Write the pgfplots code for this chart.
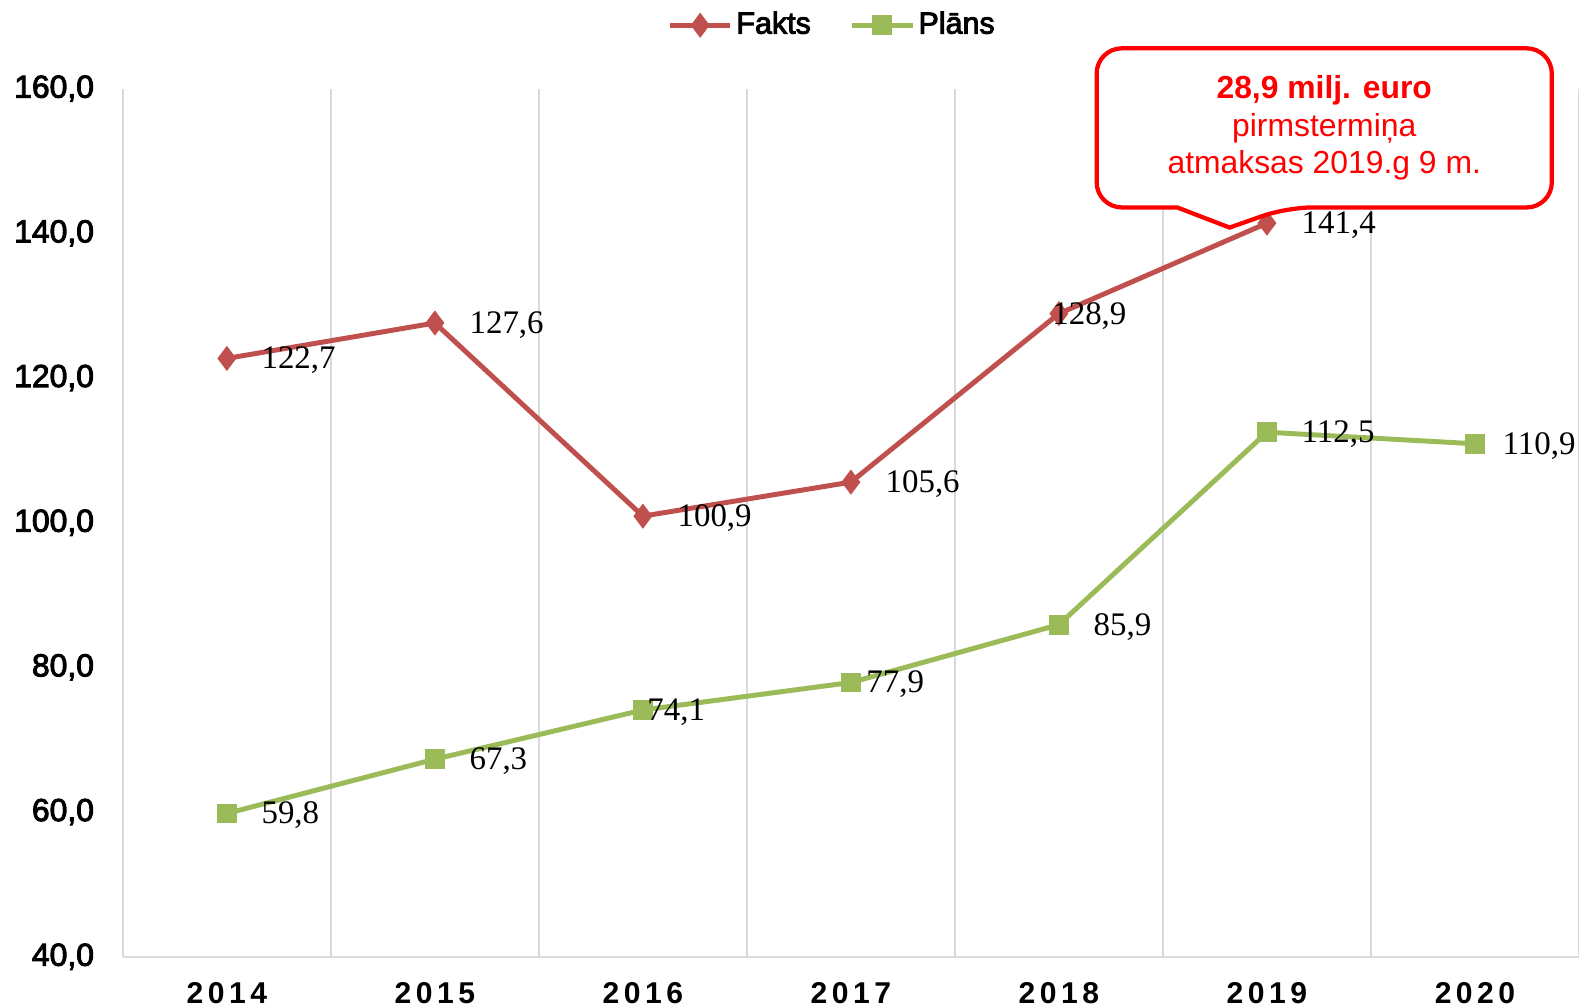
\documentclass[border=0pt]{standalone}
\usepackage{fontspec}
\setmainfont{Liberation Sans}
\newfontfamily\serif{Liberation Serif}
\newfontfamily\medium{Liberation Sans}[FakeBold=3]
\newfontfamily\yearfont{Liberation Sans}[LetterSpace=15]
\usepackage{pgfplots}
\pgfplotsset{compat=1.18}
\definecolor{FaktsRed}{HTML}{C0504D}
\definecolor{PlansGreen}{HTML}{9BBB59}
\definecolor{GridGray}{HTML}{D9D9D9}
\definecolor{CallRed}{HTML}{FF0000}

\begin{document}
\begin{tikzpicture}
\begin{axis}[
  at={(12.2mm,4.9mm)}, anchor=south west,
  scale only axis, width=144.6mm, height=86.2mm,
  xmin=-0.5, xmax=6.5, ymin=40, ymax=160,
  xtick={0,...,6}, xticklabels={2014,2015,2016,2017,2018,2019,2020},
  minor xtick={-0.5,0.5,...,6.5},
  xminorgrids, minor grid style={line width=0.6pt, GridGray},
  ytick={40,60,...,160},
  major tick length=0, minor tick length=0,
  axis x line*=bottom, axis y line*=left,
  axis line style={-, GridGray, line width=0.6pt},
  yticklabel style={/pgf/number format/.cd, fixed, fixed zerofill, precision=1,
    use comma, assume math mode=true, /tikz/.cd,
    font=\medium\fontsize{9}{10}\selectfont, anchor=east, inner sep=0pt, xshift=-2.8mm},
  xticklabel style={font=\yearfont\bfseries\fontsize{8.5}{10}\selectfont,
    anchor=north, inner sep=0pt, yshift=-2.5mm},
  legend style={at={(0.4876,1.073)}, anchor=center, draw=none, fill=none,
    legend columns=2, font=\medium\fontsize{8.6}{10}\selectfont,
    nodes={inner xsep=1pt},
    /tikz/every even column/.append style={column sep=3.5mm}},
  nodes near coords={\pgfmathprintnumber[fixed,fixed zerofill,precision=1,use comma,assume math mode=true]{\pgfplotspointmeta}},
  every node near coord/.append style={font=\serif\fontsize{9.3}{10}\selectfont,
    anchor=west, inner sep=0pt, xshift=3.2mm, yshift=-0.2mm, text=black},
]
\addplot[FaktsRed, line width=1.4pt, mark=diamond*, mark size=2.4pt,
  coordinate style/.condition={abs(x-4)<0.1}{xshift=-4.1mm}]
  coordinates {(0,122.7)(1,127.6)(2,100.9)(3,105.6)(4,128.9)(5,141.4)};
\addlegendentry{Fakts}
\addplot[PlansGreen, line width=1.4pt, mark=square*, mark size=2.1pt,
  coordinate style/.condition={abs(x-2)<0.1}{xshift=-3mm},
  coordinate style/.condition={abs(x-3)<0.1}{xshift=-1.9mm},
  coordinate style/.condition={abs(x-6)<0.1}{xshift=-0.7mm}]
  coordinates {(0,59.8)(1,67.3)(2,74.1)(3,77.9)(4,85.9)(5,112.5)(6,110.9)};
\addlegendentry{Plāns}
\end{axis}
\draw[CallRed, line width=1.2pt, fill=white, rounded corners=2.5mm]
  (108.9mm,79.3mm) -- (108.9mm,95.1mm) -- (154.1mm,95.1mm) -- (154.1mm,79.3mm)
  -- (127.8mm,79.3mm) [sharp corners] -- (122.1mm,77.3mm) -- (116.9mm,79.3mm)
  [rounded corners=2.5mm] -- cycle;
\node[align=center, text=CallRed, font=\fontsize{9}{10.7}\selectfont]
  at (131.5mm,87.2mm) {\textbf{28,9 milj. euro}\\pirmstermiņa\\atmaksas 2019.g 9 m.};
\pgfresetboundingbox
\path (0,0) rectangle (156.8mm,99.9mm);
\end{tikzpicture}
\end{document}
